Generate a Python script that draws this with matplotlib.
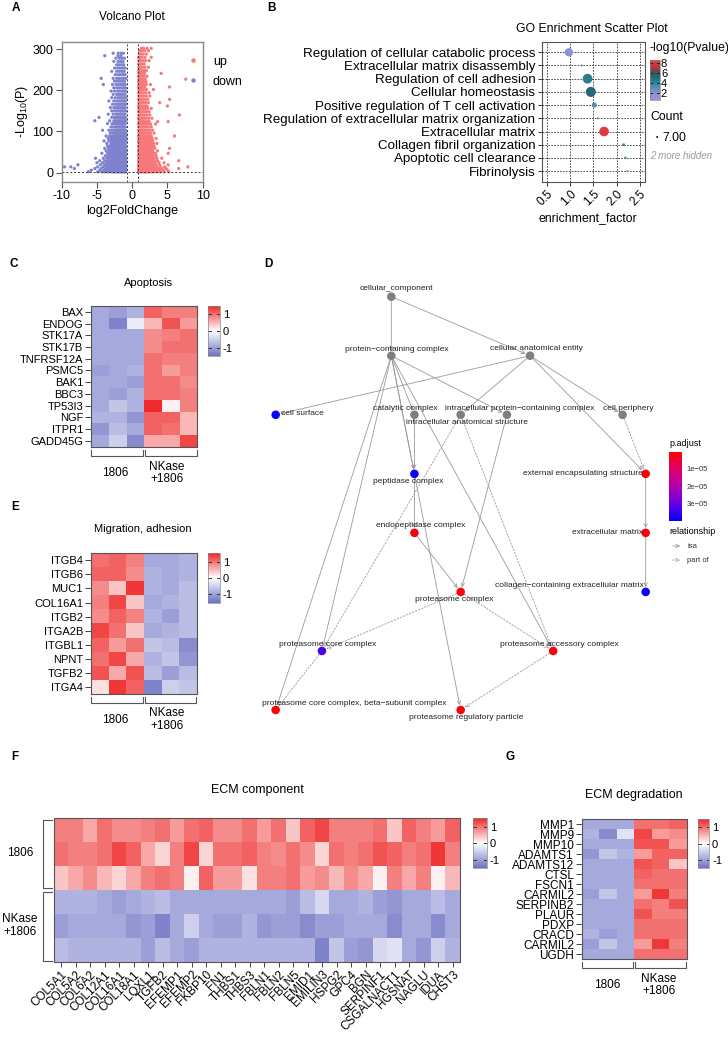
import numpy as np
import matplotlib
matplotlib.use('Agg')
import matplotlib.pyplot as plt
import matplotlib.transforms as mtransforms
from matplotlib.colors import LinearSegmentedColormap, Normalize
from matplotlib.lines import Line2D
from matplotlib.cm import ScalarMappable

plt.rcParams['font.family'] = ['Liberation Sans', 'DejaVu Sans']
plt.rcParams['axes.unicode_minus'] = False
plt.rcParams['mathtext.default'] = 'regular'

W, H = 728, 1039

down_rows = [
    (2, [-6.2, -4.9, -4.3, -3.9, -3.6, -3.3, -3.0, -2.8, -2.6, -2.4, -2.2, -2.0, -1.85, -1.7, -1.55, -1.4, -1.25, -1.1, -0.95]),
    (6, [-5.8, -4.6, -4.0, -3.7, -3.4, -3.1, -2.9, -2.7, -2.5, -2.3, -2.1, -1.95, -1.8, -1.65, -1.5, -1.35, -1.2, -1.05, -0.9]),
    (10, [-8.2, -5.3, -4.4, -3.8, -3.5, -3.2, -3.0, -2.75, -2.55, -2.35, -2.15, -2.0, -1.85, -1.7, -1.55, -1.4, -1.25, -1.1, -0.95]),
    (14, [-9.6, -8.7, -4.9, -4.1, -3.6, -3.3, -3.05, -2.8, -2.6, -2.4, -2.2, -2.05, -1.9, -1.75, -1.6, -1.45, -1.3, -1.15, -0.9]),
    (19, [-7.7, -4.5, -3.9, -3.5, -3.15, -2.9, -2.65, -2.45, -2.25, -2.1, -1.95, -1.8, -1.65, -1.5, -1.35, -1.2, -1.05, -0.9]),
    (24, [-5.0, -4.2, -3.7, -3.35, -3.0, -2.75, -2.5, -2.3, -2.15, -2.0, -1.85, -1.7, -1.55, -1.4, -1.25, -1.1, -0.95]),
    (29, [-4.6, -3.9, -3.5, -3.2, -2.9, -2.65, -2.45, -2.25, -2.05, -1.9, -1.75, -1.6, -1.45, -1.3, -1.15, -0.9]),
    (35, [-5.2, -4.1, -3.6, -3.3, -3.0, -2.7, -2.5, -2.3, -2.1, -1.95, -1.8, -1.65, -1.5, -1.35, -1.2, -1.05, -0.9]),
    (41, [-3.8, -3.4, -3.1, -2.8, -2.55, -2.35, -2.15, -2.0, -1.85, -1.7, -1.55, -1.4, -1.25, -1.1, -0.95]),
    (47, [-4.3, -3.5, -3.2, -2.9, -2.65, -2.4, -2.2, -2.05, -1.9, -1.75, -1.6, -1.45, -1.3, -1.15, -0.9]),
    (53, [-3.7, -3.3, -3.0, -2.75, -2.5, -2.3, -2.1, -1.95, -1.8, -1.65, -1.5, -1.35, -1.2, -1.05, -0.9]),
    (59, [-3.9, -3.4, -3.1, -2.8, -2.55, -2.35, -2.15, -2.0, -1.85, -1.7, -1.55, -1.4, -1.25, -1.1, -0.95]),
    (65, [-3.5, -3.15, -2.85, -2.6, -2.4, -2.2, -2.05, -1.9, -1.75, -1.6, -1.45, -1.3, -1.15, -0.9]),
    (71, [-3.6, -3.0, -2.7, -2.45, -2.25, -2.05, -1.9, -1.75, -1.6, -1.45, -1.3, -1.15, -1.0]),
    (77, [-4.0, -3.3, -2.9, -2.6, -2.35, -2.15, -2.0, -1.85, -1.7, -1.55, -1.4, -1.25, -1.1, -0.9]),
    (83, [-3.4, -3.0, -2.7, -2.45, -2.25, -2.05, -1.9, -1.7, -1.55, -1.4, -1.25, -1.1, -0.95]),
    (89, [-3.7, -3.2, -2.8, -2.5, -2.3, -2.1, -1.95, -1.8, -1.6, -1.45, -1.3, -1.15, -0.9]),
    (96, [-3.1, -2.75, -2.5, -2.25, -2.05, -1.85, -1.7, -1.5, -1.35, -1.2, -1.05, -0.9]),
    (103, [-4.2, -3.3, -2.9, -2.6, -2.35, -2.15, -1.95, -1.75, -1.6, -1.4, -1.25, -1.1, -0.95]),
    (111, [-3.0, -2.7, -2.4, -2.2, -2.0, -1.8, -1.6, -1.45, -1.3, -1.15, -0.95]),
    (119, [-3.5, -2.85, -2.55, -2.3, -2.1, -1.9, -1.7, -1.5, -1.35, -1.2, -1.0]),
    (126, [-5.3, -3.2, -2.6, -2.35, -2.1, -1.9, -1.65, -1.45, -1.25, -1.1, -0.9]),
    (134, [-4.7, -2.9, -2.5, -2.2, -1.95, -1.75, -1.55, -1.35, -1.15, -0.95]),
    (142, [-3.4, -2.7, -2.3, -2.05, -1.8, -1.6, -1.4, -1.2, -1.0]),
    (150, [-2.9, -2.5, -2.2, -1.95, -1.7, -1.5, -1.3, -1.1, -0.9]),
    (158, [-3.1, -2.6, -2.3, -2.0, -1.75, -1.5, -1.25, -1.0]),
    (166, [-2.8, -2.4, -2.1, -1.85, -1.6, -1.35, -1.1, -0.9]),
    (174, [-3.3, -2.6, -2.2, -1.9, -1.65, -1.4, -1.2, -0.95]),
    (182, [-2.9, -2.4, -2.0, -1.7, -1.45, -1.15, -0.9]),
    (190, [-2.7, -2.2, -1.9, -1.6, -1.3, -1.0]),
    (198, [-3.0, -2.5, -2.05, -1.75, -1.45, -1.15, -0.9]),
    (206, [-2.6, -2.2, -1.85, -1.5, -1.2, -0.95]),
    (214, [-4.1, -2.8, -2.3, -1.95, -1.6, -1.3, -1.0]),
    (222, [-2.5, -2.1, -1.75, -1.4, -1.1]),
    (229, [-4.4, -2.7, -2.2, -1.85, -1.5, -1.2, -0.9]),
    (238, [-2.4, -2.0, -1.65, -1.3, -1.0]),
    (246, [-2.9, -2.2, -1.8, -1.45, -1.15]),
    (254, [-2.5, -2.05, -1.7, -1.35, -1.0]),
    (262, [-2.2, -1.85, -1.5, -1.2]),
    (270, [-2.6, -2.0, -1.65, -1.3]),
    (278, [-2.3, -1.8, -1.45, -1.1]),
    (284, [-3.9, -2.0, -1.6]),
    (290, [-2.7, -2.0, -1.6, -1.25]),
]
up_rows = [
    (2, [0.9, 1.05, 1.2, 1.35, 1.5, 1.65, 1.8, 1.95, 2.1, 2.25, 2.4, 2.6, 2.8, 3.0, 3.3, 3.6, 4.0, 4.5, 5.2]),
    (6, [0.95, 1.1, 1.25, 1.4, 1.55, 1.7, 1.85, 2.0, 2.15, 2.3, 2.5, 2.7, 2.9, 3.2, 3.5, 3.9, 4.4, 5.0]),
    (10, [0.9, 1.05, 1.2, 1.35, 1.5, 1.65, 1.8, 1.95, 2.1, 2.3, 2.5, 2.75, 3.0, 3.3, 3.7, 4.2, 4.8, 6.6]),
    (14, [0.95, 1.1, 1.25, 1.4, 1.55, 1.7, 1.85, 2.0, 2.2, 2.4, 2.6, 2.85, 3.1, 3.5, 4.0, 4.6, 7.9]),
    (19, [0.9, 1.05, 1.2, 1.35, 1.5, 1.65, 1.8, 1.95, 2.15, 2.35, 2.55, 2.8, 3.1, 3.4, 3.9, 5.1]),
    (24, [0.95, 1.1, 1.25, 1.4, 1.55, 1.7, 1.85, 2.05, 2.25, 2.45, 2.7, 2.95, 3.3, 3.8, 4.5]),
    (29, [0.9, 1.05, 1.2, 1.35, 1.5, 1.65, 1.8, 2.0, 2.2, 2.4, 2.65, 2.9, 3.2, 3.6, 6.6]),
    (35, [0.95, 1.1, 1.25, 1.4, 1.55, 1.7, 1.9, 2.1, 2.3, 2.55, 2.8, 3.1, 3.5, 4.2]),
    (41, [0.9, 1.05, 1.2, 1.35, 1.5, 1.65, 1.85, 2.05, 2.25, 2.5, 2.75, 3.0, 3.4]),
    (47, [0.95, 1.1, 1.25, 1.4, 1.55, 1.75, 1.95, 2.15, 2.4, 2.65, 2.95, 3.3, 5.1]),
    (53, [0.9, 1.05, 1.2, 1.35, 1.5, 1.7, 1.9, 2.1, 2.35, 2.6, 2.9, 3.6]),
    (59, [0.95, 1.1, 1.25, 1.4, 1.6, 1.8, 2.0, 2.25, 2.5, 2.8, 3.2, 5.3]),
    (65, [0.9, 1.05, 1.2, 1.35, 1.55, 1.75, 1.95, 2.2, 2.45, 2.75, 3.1]),
    (71, [0.95, 1.1, 1.25, 1.45, 1.65, 1.85, 2.1, 2.35, 2.65, 3.0, 3.5]),
    (77, [0.9, 1.05, 1.2, 1.4, 1.6, 1.8, 2.0, 2.3, 2.6, 2.9]),
    (83, [0.95, 1.1, 1.3, 1.5, 1.7, 1.95, 2.2, 2.5, 2.85, 3.4]),
    (89, [0.9, 1.05, 1.2, 1.4, 1.6, 1.85, 2.1, 2.4, 2.7, 6.0]),
    (96, [0.95, 1.1, 1.3, 1.5, 1.75, 2.0, 2.3, 2.6, 3.1]),
    (103, [0.9, 1.05, 1.25, 1.45, 1.65, 1.9, 2.2, 2.5, 2.9]),
    (111, [0.95, 1.1, 1.3, 1.5, 1.75, 2.0, 2.3, 2.7]),
    (118, [0.9, 1.05, 1.25, 1.45, 1.7, 1.95, 2.25, 2.6, 3.3]),
    (124, [0.95, 1.1, 1.3, 1.55, 1.8, 2.1, 2.4, 3.6, 5.1]),
    (132, [0.9, 1.05, 1.25, 1.45, 1.7, 2.0, 2.35, 2.8]),
    (140, [0.95, 1.1, 1.3, 1.55, 1.8, 2.1, 2.5, 6.7]),
    (148, [0.9, 1.05, 1.25, 1.5, 1.75, 2.05, 2.4]),
    (156, [0.95, 1.1, 1.3, 1.55, 1.85, 2.2, 2.7]),
    (162, [0.9, 1.05, 1.25, 1.5, 1.8, 2.1, 5.0]),
    (170, [0.95, 1.1, 1.35, 1.6, 1.9, 2.3, 3.9]),
    (178, [0.9, 1.05, 1.3, 1.55, 1.85, 2.2, 5.3]),
    (186, [0.95, 1.1, 1.35, 1.65, 2.0, 2.5]),
    (194, [0.9, 1.05, 1.3, 1.6, 1.95, 2.4]),
    (202, [0.95, 1.1, 1.35, 1.7, 2.05, 3.0]),
    (208, [0.9, 1.05, 1.4, 1.75, 5.3]),
    (214, [0.95, 1.1, 1.35, 1.65, 2.0, 2.6]),
    (221, [0.9, 1.05, 1.3, 1.6, 1.95]),
    (227, [0.95, 1.2, 1.5, 1.85, 7.6]),
    (234, [0.9, 1.05, 1.35, 1.7, 2.1]),
    (241, [0.95, 1.1, 1.4, 1.75, 4.1]),
    (248, [0.9, 1.05, 1.3, 1.65, 2.0]),
    (256, [0.95, 1.15, 1.45, 1.8, 2.3]),
    (264, [0.9, 1.05, 1.35, 1.7]),
    (272, [0.95, 1.15, 1.5, 1.9, 2.4]),
    (280, [0.9, 1.1, 1.4, 1.8, 2.7]),
    (288, [1.0, 1.2, 1.55, 2.0]),
    (296, [1.05, 1.35, 1.75, 2.3]),
    (302, [1.3, 1.6, 2.1, 2.7]),
]
down_x = [x for y, xs in down_rows for x in xs]
down_y = [y for y, xs in down_rows for x in xs]
up_x = [x for y, xs in up_rows for x in xs]
up_y = [y for y, xs in up_rows for x in xs]
fc_cut = 0.8
p_cut = 1.3

# ---------------- B: GO enrichment ----------------
go_terms = ['Regulation of cellular catabolic process', 'Extracellular matrix disassembly',
            'Regulation of cell adhesion', 'Cellular homeostasis',
            'Positive regulation of T cell activation', 'Regulation of extracellular matrix organization',
            'Extracellular matrix', 'Collagen fibril organization', 'Apoptotic cell clearance', 'Fibrinolysis']
go_factor = [0.975, 1.25, 1.375, 1.445, 1.52, 1.60, 1.73, 2.15, 2.19, 2.23]
go_logp = [1.8, 2.9, 4.4, 5.3, 3.3, 2.6, 8.1, 3.7, 3.4, 2.9]
go_count = [120, 8, 165, 175, 45, 8, 160, 14, 12, 7]

# ---------------- C / E / F / G heatmaps ----------------
apop_genes = ['BAX', 'ENDOG', 'STK17A', 'STK17B', 'TNFRSF12A', 'PSMC5', 'BAK1', 'BBC3',
              'TP53I3', 'NGF', 'ITPR1', 'GADD45G']
apop_z = [
    [-0.9, -1.0, -0.8, 1.1, 0.9, 0.9],
    [-0.9, -1.3, -0.2, 0.5, 1.2, 0.7],
    [-0.9, -0.9, -0.9, 0.8, 0.9, 1.0],
    [-0.9, -0.9, -0.9, 0.8, 1.0, 1.0],
    [-0.9, -0.9, -0.9, 1.0, 0.9, 0.9],
    [-1.0, -0.9, -0.8, 1.0, 0.7, 0.9],
    [-0.9, -0.9, -1.0, 1.0, 1.0, 0.8],
    [-0.9, -1.0, -0.8, 1.0, 1.0, 0.9],
    [-0.9, -0.6, -0.8, 1.5, 0.1, 0.9],
    [-0.8, -0.8, -1.1, 1.1, 1.1, 0.5],
    [-1.1, -0.7, -0.9, 1.1, 1.0, 0.5],
    [-0.9, -0.5, -1.2, 0.6, 0.6, 1.3],
]
mig_genes = ['ITGB4', 'ITGB6', 'MUC1', 'COL16A1', 'ITGB2', 'ITGA2B', 'ITGBL1', 'NPNT', 'TGFB2', 'ITGA4']
mig_z = [
    [1.0, 1.1, 0.9, -0.9, -0.9, -0.8],
    [1.1, 1.1, 0.8, -0.8, -0.9, -0.8],
    [0.8, 0.4, 1.4, -0.8, -0.9, -0.7],
    [0.9, 1.3, 0.4, -0.9, -0.8, -0.7],
    [0.8, 1.1, 0.9, -0.8, -1.0, -0.7],
    [1.3, 1.0, 0.4, -0.9, -0.8, -0.7],
    [1.1, 0.7, 1.0, -0.6, -0.7, -1.2],
    [1.0, 1.3, 0.6, -0.8, -0.6, -1.1],
    [1.2, 0.6, 1.2, -0.7, -1.0, -0.7],
    [0.2, 1.4, 1.1, -1.3, -0.5, -0.6],
]
ecm_genes = ['COL5A1', 'COL5A2', 'COL6A2', 'COL12A1', 'COL16A1', 'COL18A1', 'LOXL1', 'TGFB2', 'EFEMP1',
             'EFEMP2', 'FKBP10', 'FN1', 'THBS1', 'THBS3', 'FBLN1', 'FBLN2', 'FBLN5', 'EMID1', 'EMILIN3',
             'HSPG2', 'GPC4', 'BGN', 'SERPINF1', 'CSGALNACT1', 'HGSNAT', 'NAGLU', 'IDUA', 'CHST3']
ecm_z = [
    [0.9, 0.9, 0.6, 1.0, 0.8, 0.8, 0.9, 1.0, 0.7, 1.0, 1.1, 0.8, 0.8, 1.0, 0.7, 1.0, 0.4, 1.1, 1.3, 0.9, 0.9, 0.9, 1.0, 0.4, 1.1, 0.9, 0.7, 1.1],
    [1.0, 0.9, 0.9, 1.0, 1.3, 1.1, 0.6, 0.3, 0.9, 1.3, 0.3, 1.0, 1.0, 1.1, 0.9, 0.8, 1.0, 0.8, 0.3, 1.0, 0.9, 1.0, 1.2, 1.1, 0.9, 1.0, 1.4, 0.9],
    [0.4, 0.6, 0.8, 0.5, 0.3, 0.6, 0.9, 1.0, 0.9, 0.1, 1.1, 0.7, 0.7, 0.2, 0.9, 0.9, 1.0, 0.7, 0.8, 0.5, 0.8, 0.6, 0.1, 0.9, 0.6, 0.9, 0.1, 0.5],
    [-0.8, -0.8, -0.8, -0.9, -1.0, -0.9, -0.8, -0.7, -0.9, -0.9, -0.9, -0.9, -0.9, -0.9, -0.9, -0.9, -1.0, -0.7, -0.4, -0.9, -0.9, -0.8, -1.0, -1.1, -0.9, -0.9, -0.7, -0.9],
    [-1.0, -0.9, -0.9, -0.9, -0.9, -1.1, -1.0, -1.3, -0.9, -0.5, -0.9, -1.0, -1.0, -0.8, -1.1, -1.0, -1.0, -1.2, -1.0, -1.0, -0.9, -0.9, -0.9, -1.2, -0.9, -0.9, -1.2, -0.9],
    [-0.7, -0.8, -0.8, -0.8, -0.8, -0.8, -1.0, -0.7, -0.9, -1.0, -0.8, -0.8, -0.8, -0.8, -0.8, -0.8, -0.8, -0.8, -1.3, -0.6, -1.0, -1.1, -0.4, -0.3, -0.9, -1.1, -0.5, -0.8],
]
deg_genes = ['MMP1', 'MMP9', 'MMP10', 'ADAMTS1', 'ADAMTS12', 'CTSL', 'FSCN1', 'CARMIL2', 'SERPINB2',
             'PLAUR', 'PDXP', 'CRACD', 'CARMIL2', 'UGDH']
deg_z = [
    [-0.9, -0.9, -0.9, 1.0, 1.0, 1.1],
    [-0.8, -1.2, -0.3, 1.3, 0.7, 0.8],
    [-0.9, -0.9, -0.9, 1.2, 1.2, 0.7],
    [-1.1, -0.6, -0.8, 0.7, 1.1, 1.1],
    [-0.9, -0.9, -0.9, 1.2, 1.1, 0.4],
    [-0.9, -0.9, -0.9, 1.1, 1.0, 1.0],
    [-0.9, -0.9, -0.9, 1.0, 1.0, 1.0],
    [-1.0, -0.6, -0.9, 0.7, 1.4, 0.9],
    [-0.9, -0.9, -0.9, 1.0, 0.9, 1.2],
    [-0.9, -0.9, -0.9, 1.2, 0.9, 0.9],
    [-0.9, -0.9, -0.9, 1.0, 1.0, 1.0],
    [-0.8, -1.0, -0.9, 1.0, 1.0, 1.0],
    [-1.0, -0.6, -0.9, 0.7, 1.4, 0.9],
    [-0.9, -0.9, -0.9, 1.0, 1.0, 1.0],
]

# ---------------- D: GO DAG ----------------
go_nodes = ['cellular_component', 'protein\u2212containing complex', 'cellular anatomical entity',
            'cell surface', 'catalytic complex', 'intracellular anatomical structure',
            'intracellular protein\u2212containing complex', 'cell periphery', 'peptidase complex',
            'external encapsulating structure', 'endopeptidase complex', 'extracellular matrix',
            'proteasome complex', 'collagen\u2212containing extracellular matrix', 'proteasome core complex',
            'proteasome accessory complex', 'proteasome core complex, beta\u2212subunit complex',
            'proteasome regulatory particle']
node_x = [2.5, 2.5, 5.5, 0, 3, 4, 5, 7.5, 3, 8, 3, 8, 4, 8, 1, 6, 0, 4]
node_layer = [0, 1, 1, 2, 2, 2, 2, 2, 3, 3, 4, 4, 5, 5, 6, 6, 7, 7]
node_padj = [np.nan, np.nan, np.nan, 3.95e-5, np.nan, np.nan, np.nan, np.nan, 3.9e-5,
             1.2e-6, 1.5e-6, 1.1e-6, 1.3e-6, 3.9e-5, 3.3e-5, 1.8e-6, 1.6e-6, 1.4e-6]
go_edges = [
    (0, 1, 'isa'), (0, 2, 'isa'),
    (1, 4, 'isa'), (1, 8, 'isa'), (1, 6, 'isa'), (1, 14, 'isa'), (1, 16, 'isa'), (1, 17, 'isa'), (1, 15, 'isa'),
    (2, 3, 'isa'), (2, 5, 'isa'), (2, 7, 'isa'), (2, 9, 'isa'),
    (4, 8, 'isa'), (8, 10, 'isa'), (10, 12, 'isa'), (6, 12, 'isa'),
    (5, 14, 'part of'), (5, 15, 'part of'), (12, 14, 'part of'), (12, 15, 'part of'),
    (14, 16, 'part of'), (15, 17, 'part of'), (7, 9, 'part of'),
    (9, 11, 'isa'), (11, 13, 'isa'),
]
# label placement: (dx px, dy px, ha)
node_label_pos = [(5, -8, 'center'), (6, -6, 'center'), (6, -7, 'center'), (5, -1, 'left'),
                  (-9, -6.5, 'center'), (6, 8, 'center'), (13, -6.5, 'center'), (6, -6.5, 'center'),
                  (-6, 8, 'center'), (-3, 0, 'right'), (6.5, -7, 'center'), (-3, 0, 'right'),
                  (-6.5, 7.5, 'center'), (-2, -6, 'right'), (6, -6.5, 'center'), (6, -6.5, 'center'),
                  (79, -6, 'center'), (6, 7.5, 'center')]

# ---------------- figure ----------------
fig = plt.figure(figsize=(W / 100, H / 100), dpi=100)


def box(l, t, r, b):
    return [l / W, 1 - b / H, (r - l) / W, (b - t) / H]


def ftext(x, y, s, **kw):
    kw.setdefault('ha', 'center')
    kw.setdefault('va', 'center')
    fig.text(x / W, 1 - y / H, s, **kw)


for lab, x, y in [('A', 16, 8), ('B', 271, 8), ('C', 14, 264), ('D', 268, 264),
                  ('E', 15, 507), ('F', 15, 757), ('G', 510, 757)]:
    ftext(x, y, lab, fontsize=8.5, fontweight='bold')

# A
ax = fig.add_axes(box(61.7, 41.7, 202.7, 181.7))
ax.scatter(down_x, down_y, s=5.5, c='#7F83CE', edgecolors='none')
ax.scatter(up_x, up_y, s=5.5, c='#F7787A', edgecolors='none')
for v in (-fc_cut, fc_cut):
    ax.axvline(v, color='#333333', ls=(0, (2, 2)), lw=0.7)
ax.axhline(p_cut, color='#333333', ls=(0, (2, 2)), lw=0.7)
ax.set_xlim(-10, 10)
ax.set_ylim(-22, 318)
ax.set_xticks([-10, -5, 0, 5, 10])
ax.set_yticks([0, 100, 200, 300])
ax.tick_params(labelsize=9, length=4, width=0.8, color='#555555', pad=2)
for sp in ax.spines.values():
    sp.set_color('#888888')
    sp.set_linewidth(1.0)
ax.set_xlabel('log2FoldChange', fontsize=9, labelpad=2)
ax.set_ylabel('-Log$_{10}$(P)', fontsize=9, labelpad=2)
ftext(132, 17, 'Volcano Plot', fontsize=8.5)
handles = [Line2D([], [], marker='o', ls='', color='#F7787A', ms=2.2),
           Line2D([], [], marker='o', ls='', color='#7F83CE', ms=2.2)]
ax.legend(handles, ['up', 'down'], loc='upper left', bbox_to_anchor=(0.887, 0.9), frameon=False,
          fontsize=9, handlelength=1, handletextpad=1.08, labelspacing=0.65, borderpad=0, borderaxespad=0)

# B
go_cmap = LinearSegmentedColormap.from_list('go', [(0.0, '#9597DA'), (0.18, '#8A90D0'), (0.42, '#2B8A9C'),
                                                   (0.55, '#1E6E7E'), (0.68, '#44505E'), (0.86, '#C8363D'),
                                                   (1.0, '#EE3B3B')])
axb = fig.add_axes(box(541.7, 41.7, 645, 181.7))
ypos = np.arange(len(go_terms))
axb.set_axisbelow(True)
scb = axb.scatter(go_factor, ypos, s=np.array(go_count) * 0.3, c=go_logp, cmap=go_cmap, vmin=0.6, vmax=8.6,
                  edgecolors='none', zorder=3)
axb.set_yticks(ypos)
axb.set_yticklabels(go_terms, fontsize=9.6)
axb.set_ylim(9.8, -0.8)
axb.set_xlim(0.39, 2.61)
axb.set_xticks([0.5, 1.0, 1.5, 2.0, 2.5])
axb.set_xticklabels(['0.5', '1.0', '1.5', '2.0', '2.5'], rotation=45, ha='right', rotation_mode='anchor', fontsize=8.5)
axb.grid(True, ls=(0, (2, 1.5)), color='#333333', lw=0.6)
axb.tick_params(length=3, width=0.7, color='#333333', pad=1.5)
for sp in axb.spines.values():
    sp.set_color('#555555')
    sp.set_linewidth(0.8)
ftext(588, 218, 'enrichment_factor', fontsize=8.8)
ftext(592, 29, 'GO Enrichment Scatter Plot', fontsize=8.8)
caxb = fig.add_axes(box(650, 60, 659.5, 100))
cbb = fig.colorbar(scb, cax=caxb, ticks=[2, 4, 6, 8])
cbb.outline.set_edgecolor('#888888')
cbb.outline.set_linewidth(0.5)
caxb.tick_params(length=0, labelsize=8, pad=1)
for t in [2, 4, 6, 8]:
    caxb.axhline(t, 0, 0.25, color='#222222', lw=0.7)
    caxb.axhline(t, 0.75, 1, color='#222222', lw=0.7)
ftext(650, 48, '-log10(Pvalue)', fontsize=8.8, ha='left')
ftext(650, 117, 'Count', fontsize=8.8, ha='left')
ftext(657, 138, '\u2022', fontsize=5, ha='center')
ftext(662, 138, '7.00', fontsize=8.8, ha='left')
ftext(650, 156, '2 more hidden', fontsize=7, ha='left', style='italic', color='#9A9A9A')

# heatmaps
heat_cmap = LinearSegmentedColormap.from_list('bwr2', ['#6C71C4', '#FFFFFF', '#EE2A2A'])


def heat_panel(l, t, r, b, data, cb, rows=None, fs=8):
    axh = fig.add_axes(box(l, t, r, b))
    im = axh.imshow(np.array(data), cmap=heat_cmap, vmin=-1.5, vmax=1.5, aspect='auto', interpolation='nearest')
    for sp in axh.spines.values():
        sp.set_color('#555555')
        sp.set_linewidth(0.8)
    axh.set_xticks([])
    if rows is not None:
        axh.set_yticks(range(len(rows)))
        axh.set_yticklabels(rows, fontsize=fs)
        axh.tick_params(axis='y', length=4.5, width=0.7, pad=1, color='#444444')
    else:
        axh.set_yticks([])
    cax = fig.add_axes(box(*cb))
    cbar = fig.colorbar(im, cax=cax, ticks=[-1, 0, 1])
    cbar.outline.set_edgecolor('#888888')
    cbar.outline.set_linewidth(0.5)
    cax.tick_params(length=0, labelsize=8, pad=2)
    for tv in [-1, 0, 1]:
        cax.axhline(tv, 0, 0.22, color='#333333', lw=0.7)
        cax.axhline(tv, 0.78, 1, color='#333333', lw=0.7)
    return axh


def col_brackets(axh, t, b, y_top, y_bot, groups):
    tr = mtransforms.blended_transform_factory(axh.transData, axh.transAxes)
    h = b - t
    y0 = -(y_top - b) / h
    y1 = -(y_bot - b) / h
    for g0, g1 in groups:
        axh.plot([g0, g0, g1, g1], [y0, y1, y1, y0], transform=tr, color='#555555', lw=0.8, clip_on=False)


groups6 = [(-0.47, 2.44), (2.56, 5.47)]

# C
axc = heat_panel(90.7, 306, 197.3, 446.7, apop_z, (208.3, 306, 220, 356), apop_genes)
col_brackets(axc, 306, 446.7, 450, 455.5, groups6)
ftext(148, 283, 'Apoptosis', fontsize=8)
ftext(115, 473, '1806', fontsize=8.5)
ftext(167, 473, 'NKase\n+1806', fontsize=8.5, linespacing=1.05)

# E
axe = heat_panel(90.7, 553.3, 196.7, 694, mig_z, (208.3, 553.3, 220, 602.7), mig_genes)
col_brackets(axe, 553.3, 694, 697, 703, groups6)
ftext(143, 529, 'Migration, adhesion', fontsize=8)
ftext(115, 720, '1806', fontsize=8.5)
ftext(167, 719.5, 'NKase\n+1806', fontsize=8.5, linespacing=1.05)

# F
axf = heat_panel(54, 818.3, 460, 961.7, ecm_z, (472.7, 818.3, 487, 868))
axf.set_xticks(range(len(ecm_genes)))
axf.set_xticklabels(ecm_genes, rotation=45, ha='right', rotation_mode='anchor', fontsize=8.5)
axf.tick_params(axis='x', length=3.5, width=0.7, pad=1.5, color='#444444')
trf = mtransforms.blended_transform_factory(axf.transAxes, axf.transData)
xa = -(54 - 52) / 406
xb = -(54 - 43) / 406
for g0, g1 in [(-0.43, 2.43), (2.6, 5.45)]:
    axf.plot([xa, xb, xb, xa], [g0, g0, g1, g1], transform=trf, color='#555555', lw=0.8, clip_on=False)
ftext(257, 790, 'ECM component', fontsize=9)
ftext(20, 853, '1806', fontsize=8.5)
ftext(20, 925.5, 'NKase\n+1806', fontsize=8.5, linespacing=1.05)

# G
axg = heat_panel(581.7, 819.3, 686.7, 959.3, deg_z, (698.3, 819.3, 709.3, 868.3), deg_genes, fs=8.5)
col_brackets(axg, 819.3, 959.3, 962, 968, [(-0.47, 2.44), (2.56, 5.47)])
ftext(634, 795, 'ECM degradation', fontsize=9)
ftext(607, 985, '1806', fontsize=8.5)
ftext(659, 985, 'NKase\n+1806', fontsize=8.5, linespacing=1.05)

# D
p_cmap = LinearSegmentedColormap.from_list('padj', ['#FF0000', '#E0006A', '#B000B0', '#6A00E0', '#0000FF'])
p_norm = Normalize(vmin=5e-7, vmax=4e-5)
axd = fig.add_axes(box(260, 270, 728, 760))
axd.set_xlim(-0.339, 9.78)
axd.set_ylim(7.847, -0.452)
axd.axis('off')
for s, t, rel in go_edges:
    axd.annotate('', xy=(node_x[t], node_layer[t]), xytext=(node_x[s], node_layer[s]),
                 arrowprops=dict(arrowstyle='->', color='#9A9A9A', lw=0.6,
                                 ls='-' if rel == 'isa' else (0, (2, 2)),
                                 shrinkA=3, shrinkB=3.5, mutation_scale=6), zorder=1)
node_cols = ['#7F7F7F' if np.isnan(p) else p_cmap(p_norm(p)) for p in node_padj]
axd.scatter(node_x, node_layer, s=38, c=node_cols, edgecolors='none', zorder=3)
for i, name in enumerate(go_nodes):
    dx, dy, ha = node_label_pos[i]
    axd.annotate(name, (node_x[i], node_layer[i]), xytext=(dx * 0.72, -dy * 0.72), textcoords='offset points',
                 ha=ha, va='center', fontsize=6, color='#222222', zorder=4)
caxd = fig.add_axes(box(669, 452, 682, 521))
cbd = fig.colorbar(ScalarMappable(norm=p_norm, cmap=p_cmap), cax=caxd, ticks=[1e-5, 2e-5, 3e-5])
cbd.set_ticklabels(['1e\u221205', '2e\u221205', '3e\u221205'])
caxd.invert_yaxis()
cbd.outline.set_visible(False)
caxd.tick_params(length=0, labelsize=5.5, pad=3, colors='#333333')
ftext(669, 444, 'p.adjust', fontsize=6.5, ha='left')
ftext(669, 531, 'relationship', fontsize=6.5, ha='left')
axd.annotate('', xy=(683, H - 546), xytext=(670, H - 546), xycoords='figure pixels',
             arrowprops=dict(arrowstyle='->', color='#9A9A9A', lw=0.6, mutation_scale=6))
axd.annotate('', xy=(683, H - 560), xytext=(670, H - 560), xycoords='figure pixels',
             arrowprops=dict(arrowstyle='->', color='#9A9A9A', lw=0.6, ls=(0, (2, 2)), mutation_scale=6))
ftext(687, 546, 'isa', fontsize=5.5, ha='left', color='#333333')
ftext(687, 560, 'part of', fontsize=5.5, ha='left', color='#333333')

fig.savefig('out.png', dpi=100)
